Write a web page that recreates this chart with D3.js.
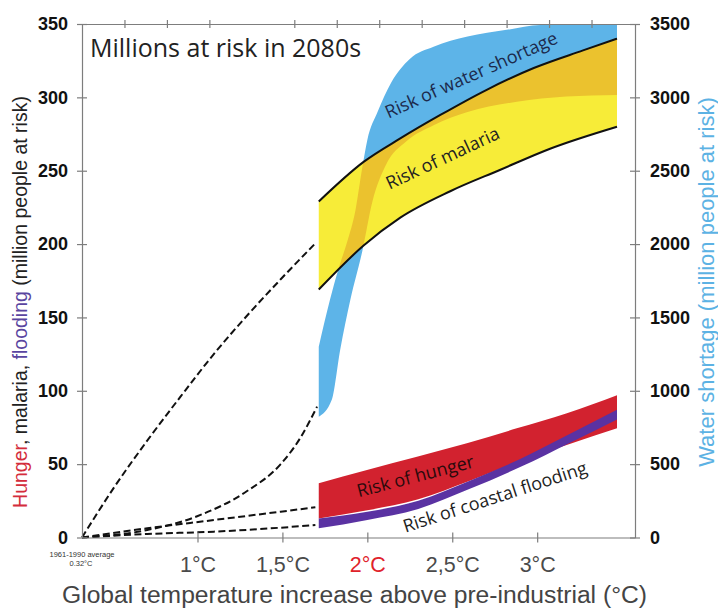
<!DOCTYPE html>
<html>
<head>
<meta charset="utf-8">
<script src="https://cdn.jsdelivr.net/npm/d3@7"></script>
<style>
  body { margin: 0; background: #fff; }
  svg { display: block; }
</style>
</head>
<body>
<svg id="chart"></svg>
<script>
// axis ticks
const tempTicks = [1, 1.5, 2, 2.5, 3];
const tempLabels = ["1°C", "1,5°C", "2°C", "2,5°C", "3°C"];
const topTicks = [0.57, 0.82, 1.07, 1.57, 1.82, 2.07, 2.32, 2.57, 2.82, 3.07, 3.32];
const leftTicks = [0, 50, 100, 150, 200, 250, 300, 350];
const rightTicks = [0, 500, 1000, 1500, 2000, 2500, 3000, 3500];

// malaria band (million people at risk, left axis)
const malariaHighT = [1.714, 1.978, 2.194, 2.43, 2.70, 2.98, 3.27, 3.47];
const malariaHigh = [229, 256, 272, 288, 305, 320, 332, 340];
const malariaLowT = [1.714, 1.978, 2.194, 2.488, 2.78, 3.076, 3.47];
const malariaLow = [169, 199, 218, 236, 250.5, 265, 280];

// water shortage band (million people at risk, right axis)
const waterHighT = [1.714, 1.78, 1.83, 1.88, 1.93, 1.97, 2.00, 2.06, 2.14, 2.25, 2.39, 2.59, 2.82, 3.02, 3.47];
const waterHigh = [1300, 1620, 1830, 2010, 2230, 2520, 2710, 2900, 3100, 3262, 3345, 3414, 3460, 3493, 3500];
const waterLowT = [1.714, 1.79, 1.84, 1.90, 1.97, 2.03, 2.11, 2.23, 2.39, 2.59, 2.88, 3.17, 3.47];
const waterLow = [823, 937, 1278, 1620, 1950, 2290, 2540, 2700, 2810, 2900, 2970, 3005, 3016];

// hunger band
const hungerHighT = [1.714, 1.998, 2.292, 2.586, 2.88, 3.175, 3.47];
const hungerHigh = [37, 46, 55, 64.2, 74.4, 84.7, 97];
const hungerLowT = [1.714, 2.0, 2.3, 2.6, 2.9, 3.2, 3.47];
const hungerLow = [13, 18.5, 26, 38.5, 52, 64, 74.4];

// coastal flooding band
const floodT = [1.714, 2.0, 2.3, 2.6, 2.9, 3.2, 3.47];
const floodHigh = [13, 17.5, 25, 38.5, 53.5, 71, 87];
const floodLow = [6.3, 12, 19.5, 33, 48, 65, 80.5];

// dashed paths from the 1961-1990 baseline
const malariaDashT = [0.32, 0.508, 0.704, 0.9, 1.096, 1.29, 1.49, 1.694];
const malariaDash = [0, 34, 66, 96, 125, 151, 176, 200.5];
const waterDashT = [0.32, 0.704, 0.998, 1.29, 1.49, 1.606, 1.704];
const waterDash = [0, 51, 145, 315, 500, 680, 892];
const hungerDashT = [0.32, 0.704, 1.096, 1.49, 1.694];
const hungerDash = [0, 6.3, 11.9, 17.6, 20.6];
const floodDashT = [0.32, 0.704, 1.096, 1.49, 1.694];
const floodDash = [0, 2.4, 4, 6.7, 8.5];

class RiskChart {
  constructor(_config) {
    this.config = {
      parentElement: _config.parentElement,
      containerWidth: _config.containerWidth || 718,
      containerHeight: _config.containerHeight || 610,
      margin: _config.margin || { top: 24, right: 83, bottom: 72.5, left: 82 },
    };
    this.initVis();
  }

  initVis() {
    let vis = this;
    const m = vis.config.margin;
    vis.width = vis.config.containerWidth - m.left - m.right;
    vis.height = vis.config.containerHeight - m.top - m.bottom;

    vis.svg = d3.select(vis.config.parentElement)
      .attr("width", vis.config.containerWidth)
      .attr("height", vis.config.containerHeight);

    vis.chart = vis.svg.append("g")
      .attr("transform", `translate(${m.left},${m.top})`);

    vis.xScale = d3.scaleLinear().domain([0.32, 3.576]).range([0, vis.width]);
    vis.yLeft = d3.scaleLinear().domain([0, 350]).range([vis.height, 0]);
    vis.yRight = d3.scaleLinear().domain([0, 3500]).range([vis.height, 0]);

    vis.curve = d3.line().curve(d3.curveMonotoneX);
    vis.renderVis();
  }

  pts(ts, vs, y) {
    return ts.map((t, i) => [this.xScale(t), y(vs[i])]);
  }

  // closed shape: upper edge left->right, lower edge right->left
  band(t0, v0, t1, v1, y) {
    const top = this.curve(this.pts(t0, v0, y));
    const bot = this.curve(this.pts(t1, v1, y).reverse());
    return top + bot.replace("M", "L") + "Z";
  }

  renderVis() {
    let vis = this;
    const x = vis.xScale, yL = vis.yLeft, yR = vis.yRight;

    const malariaPath = vis.band(malariaHighT, malariaHigh, malariaLowT, malariaLow, yL);
    const waterPath = vis.band(waterHighT, waterHigh, waterLowT, waterLow, yR);

    vis.svg.append("defs").append("clipPath").attr("id", "malariaClip")
      .append("path").attr("d", malariaPath);

    // water shortage (behind), malaria on top, overlap in gold
    vis.chart.append("path").attr("d", waterPath).attr("fill", "#5db4e8");
    vis.chart.append("path").attr("d", malariaPath).attr("fill", "#f7ec38");
    vis.chart.append("path").attr("d", waterPath).attr("fill", "#ebc22e")
      .attr("clip-path", "url(#malariaClip)");

    [[malariaHighT, malariaHigh], [malariaLowT, malariaLow]].forEach(([t, v]) => {
      vis.chart.append("path")
        .attr("d", vis.curve(vis.pts(t, v, yL)))
        .attr("fill", "none").attr("stroke", "#111").attr("stroke-width", 2);
    });

    // hunger and coastal flooding
    vis.chart.append("path")
      .attr("d", vis.band(hungerHighT, hungerHigh, hungerLowT, hungerLow, yL))
      .attr("fill", "#d2222f");
    vis.chart.append("path")
      .attr("d", vis.band(floodT, floodHigh, floodT, floodLow, yL))
      .attr("fill", "#5a32a2");

    // dashed lines
    [[malariaDashT, malariaDash, yL], [waterDashT, waterDash, yR],
     [hungerDashT, hungerDash, yL], [floodDashT, floodDash, yL]].forEach(([t, v, y]) => {
      vis.chart.append("path")
        .attr("d", vis.curve(vis.pts(t, v, y)))
        .attr("fill", "none").attr("stroke", "#111")
        .attr("stroke-width", 2).attr("stroke-dasharray", "7,3.5");
    });

    // band labels
    const labels = [
      { text: "Risk of water shortage", t: 2.125, v: 285.5, a: -24, c: "#1c2a4c" },
      { text: "Risk of malaria", t: 2.131, v: 237, a: -25, c: "#222" },
      { text: "Risk of hunger", t: 1.949, v: 27.4, a: -14.5, c: "#2a0a0c" },
      { text: "Risk of coastal flooding", t: 2.224, v: 3.3, a: -18, c: "#222" },
    ];
    vis.chart.selectAll(".band-label").data(labels).join("text")
      .attr("class", "band-label")
      .attr("transform", d => `translate(${x(d.t)},${yL(d.v)}) rotate(${d.a})`)
      .attr("font-family", "'Open Sans', sans-serif")
      .attr("font-size", 18)
      .attr("fill", d => d.c)
      .text(d => d.text);

    // axes
    const axisColor = "#7d7d7d";
    const font = "'Liberation Sans', Arial, sans-serif";

    const styleAxis = (g) => {
      g.select(".domain").attr("stroke", axisColor).attr("stroke-width", 1.2);
      g.selectAll(".tick line").attr("stroke", axisColor).attr("stroke-width", 1.2);
    };

    vis.chart.append("g")
      .attr("transform", `translate(0,${vis.height})`)
      .call(d3.axisBottom(x).tickValues(tempTicks)
        .tickFormat((d, i) => tempLabels[i])
        .tickSizeInner(5).tickSizeOuter(0).tickPadding(14))
      .call(styleAxis)
      .call(g => g.selectAll(".tick line").attr("y1", -5))
      .call(g => g.selectAll(".tick text")
        .attr("font-family", font).attr("font-size", 21.5)
        .attr("fill", d => d === 2 ? "#e0222b" : "#4a4a4a"));

    vis.chart.append("g")
      .call(d3.axisTop(x).tickValues(topTicks).tickFormat("")
        .tickSizeInner(4).tickSizeOuter(0))
      .call(styleAxis)
      .call(g => g.selectAll(".tick line").attr("y1", 4));

    vis.chart.append("g")
      .call(d3.axisLeft(yL).tickValues(leftTicks).tickSizeInner(5).tickSizeOuter(0).tickPadding(9))
      .call(styleAxis)
      .call(g => g.selectAll(".tick line").attr("x1", 5))
      .call(g => g.selectAll(".tick text")
        .attr("font-family", font).attr("font-size", 18)
        .attr("font-weight", "bold").attr("fill", "#111"));

    vis.chart.append("g")
      .attr("transform", `translate(${vis.width},0)`)
      .call(d3.axisRight(yR).tickValues(rightTicks).tickFormat(d3.format("d"))
        .tickSizeInner(5).tickSizeOuter(0).tickPadding(10))
      .call(styleAxis)
      .call(g => g.selectAll(".tick line").attr("x1", -5))
      .call(g => g.selectAll(".tick text")
        .attr("font-family", font).attr("font-size", 18)
        .attr("font-weight", "bold").attr("fill", "#111"));

    // titles
    vis.chart.append("text")
      .attr("x", 8).attr("y", 33)
      .attr("font-family", "'Open Sans', sans-serif")
      .attr("font-size", 25).attr("fill", "#222")
      .text("Millions at risk in 2080s");

    vis.svg.append("text")
      .attr("x", 62).attr("y", 603)
      .attr("textLength", 585).attr("lengthAdjust", "spacingAndGlyphs")
      .attr("font-family", font).attr("font-size", 23)
      .attr("fill", "#444")
      .text("Global temperature increase above pre-industrial (°C)");

    const leftTitle = vis.svg.append("text")
      .attr("transform", "translate(27,302) rotate(-90)")
      .attr("text-anchor", "middle")
      .attr("font-family", font).attr("font-size", 19.5);
    [["Hunger", "#d42d3c"], [", malaria, ", "#222"], ["flooding", "#5a45a0"],
     [" (million people at risk)", "#222"]].forEach(([s, c]) => {
      leftTitle.append("tspan").attr("fill", c).text(s);
    });

    vis.svg.append("text")
      .attr("transform", "translate(714,282) rotate(-90)")
      .attr("text-anchor", "middle")
      .attr("font-family", font).attr("font-size", 22)
      .attr("fill", "#5cb2e4")
      .text("Water shortage (million people at risk)");

    // baseline note under the origin
    vis.svg.append("text")
      .attr("x", 82).attr("y", 557).attr("text-anchor", "middle")
      .attr("font-family", font).attr("font-size", 7.5).attr("fill", "#333")
      .text("1961-1990 average");
    vis.svg.append("text")
      .attr("x", 81).attr("y", 566).attr("text-anchor", "middle")
      .attr("font-family", font).attr("font-size", 7.5).attr("fill", "#333")
      .text("0.32°C");
  }
}

new RiskChart({ parentElement: "#chart" });
</script>
</body>
</html>
